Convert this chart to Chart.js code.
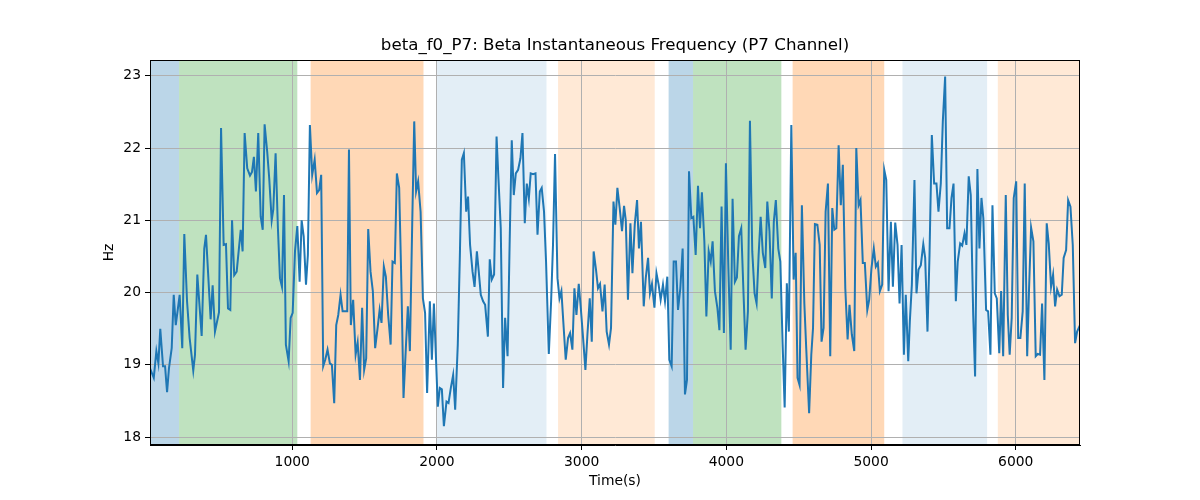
<!DOCTYPE html>
<html><head><meta charset="utf-8">
<script src="https://cdn.jsdelivr.net/npm/chart.js@4.4.1/dist/chart.umd.min.js"></script>
<style>html,body{margin:0;padding:0;background:#fff}</style>
</head><body>
<canvas id="c" width="1200" height="500"></canvas>
<script>
const times = [17,43,61,75,88,107,121,135,148,167,181,195,222,240,254,273,291,316,328,344,374,392,404,436,450,466,494,508,526,542,556,572,584,599,616,644,657,671,689,708,722,735,749,765,782,796,809,827,841,858,869,885,901,915,929,943,956,975,989,1003,1019,1035,1051,1065,1079,1095,1108,1122,1138,1155,1171,1186,1200,1214,1228,1244,1260,1274,1290,1304,1318,1334,1348,1364,1380,1392,1405,1421,1438,1452,1468,1483,1497,1511,1525,1541,1557,1573,1590,1604,1617,1633,1647,1663,1680,1693,1709,1723,1739,1755,1769,1785,1799,1813,1829,1843,1856,1870,1887,1903,1918,1932,1951,1965,1979,2006,2020,2034,2048,2066,2080,2096,2112,2126,2144,2158,2172,2186,2202,2215,2229,2246,2260,2276,2289,2303,2319,2333,2352,2365,2379,2395,2412,2425,2441,2457,2471,2488,2503,2517,2531,2545,2561,2577,2591,2607,2621,2635,2648,2664,2681,2695,2711,2724,2740,2754,2773,2789,2802,2816,2833,2847,2860,2876,2890,2906,2920,2936,2950,2964,2980,2994,3010,3026,3040,3056,3070,3083,3099,3113,3127,3144,3159,3173,3189,3203,3220,3233,3247,3263,3279,3293,3305,3320,3337,3351,3367,3383,3396,3410,3429,3443,3459,3472,3486,3503,3517,3532,3546,3562,3576,3592,3606,3622,3636,3652,3666,3682,3698,3714,3728,3742,3758,3772,3788,3804,3818,3831,3848,3862,3878,3892,3905,3921,3938,3952,3967,3983,3997,4014,4030,4043,4059,4073,4087,4103,4119,4133,4149,4163,4179,4195,4209,4223,4237,4252,4269,4283,4298,4314,4328,4342,4359,4373,4389,4403,4418,4432,4449,4465,4479,4492,4506,4522,4539,4552,4572,4587,4599,4612,4629,4645,4658,4672,4686,4702,4718,4732,4746,4760,4776,4791,4805,4822,4838,4851,4867,4884,4898,4914,4927,4943,4957,4974,4987,5003,5019,5033,5047,5061,5077,5091,5105,5121,5137,5151,5167,5183,5197,5211,5227,5240,5257,5268,5282,5300,5314,5328,5344,5361,5374,5390,5404,5420,5436,5452,5466,5482,5496,5512,5526,5542,5556,5570,5586,5599,5616,5630,5646,5659,5675,5689,5706,5719,5735,5749,5763,5776,5795,5809,5825,5839,5855,5869,5886,5899,5913,5931,5945,5958,5972,5986,6003,6017,6032,6048,6062,6079,6092,6106,6122,6138,6152,6168,6182,6198,6214,6228,6244,6258,6272,6286,6302,6318,6331,6348,6362,6378,6394,6410,6424,6444];
const hz = [18.95,18.82,19.19,19.02,19.50,18.98,18.98,18.62,18.95,19.23,19.97,19.55,19.97,19.23,20.81,19.88,19.37,18.92,19.14,20.25,19.40,20.61,20.80,19.63,20.10,19.46,19.73,22.28,20.66,20.67,19.78,19.76,21.00,20.24,20.29,20.87,20.57,22.21,21.72,21.62,21.67,21.88,21.40,22.21,21.05,20.87,22.33,21.95,21.58,21.00,21.15,21.93,20.89,20.20,20.08,21.35,19.28,19.05,19.65,19.72,20.57,20.92,20.15,21.00,20.78,20.11,20.52,22.32,21.63,21.84,21.38,21.42,21.63,18.98,19.07,19.21,19.02,19.00,18.47,19.55,19.69,19.97,19.74,19.74,19.74,21.98,19.55,19.90,19.14,19.31,18.79,19.79,18.93,19.09,20.88,20.29,20.02,19.23,19.51,19.76,19.58,20.36,20.22,19.69,19.28,20.43,20.41,21.65,21.45,20.06,18.54,19.23,19.81,19.19,20.94,22.37,21.40,21.54,21.12,19.92,19.72,18.61,19.88,19.07,19.85,18.42,18.68,18.66,18.15,18.49,18.47,18.68,18.86,18.38,19.28,20.48,21.84,21.93,21.12,21.33,20.66,20.29,20.08,20.57,20.29,19.97,19.88,19.83,19.39,20.46,20.18,20.25,22.16,21.58,20.89,18.68,19.65,19.12,20.75,22.11,21.35,21.65,21.70,21.86,22.21,20.96,21.51,21.30,21.65,21.64,21.65,20.80,21.40,21.45,21.12,20.43,19.15,19.88,20.66,21.92,20.20,19.92,20.02,19.51,19.07,19.37,19.44,19.21,20.06,19.69,20.12,19.79,19.37,18.93,19.42,19.92,19.32,20.57,20.32,20.06,20.12,19.74,20.11,19.46,19.28,19.51,21.26,20.94,21.45,21.17,20.85,21.20,21.00,19.90,20.96,20.27,20.94,21.28,20.61,20.98,19.81,20.20,20.48,19.99,20.12,19.79,20.27,20.11,19.90,20.11,19.88,20.22,19.07,18.98,20.43,20.43,19.76,20.06,20.61,18.59,18.79,21.68,21.03,21.05,20.52,21.48,20.89,21.39,20.71,19.67,20.57,20.43,20.71,20.02,19.79,19.48,21.19,19.44,21.79,20.34,19.21,21.30,20.15,20.21,20.78,20.89,19.97,19.21,19.74,22.38,20.57,19.99,19.85,20.52,21.05,20.55,20.34,21.26,20.85,19.92,20.98,21.28,20.61,20.43,19.28,18.41,20.13,19.46,22.32,20.18,20.55,18.82,18.72,21.21,19.85,19.23,18.33,19.14,19.51,20.95,20.94,20.66,19.32,19.51,21.12,21.51,19.12,21.17,20.87,20.89,22.04,21.21,21.77,20.06,19.35,19.83,19.42,19.19,22.00,21.21,21.28,20.41,20.41,19.76,19.90,20.34,20.61,20.36,20.41,20.02,20.11,21.70,21.56,20.02,20.98,20.08,20.97,20.66,19.85,20.66,19.14,19.97,19.05,19.60,20.11,21.56,19.99,20.32,20.38,20.67,20.48,19.46,20.52,22.18,21.51,21.51,21.12,21.51,22.37,22.99,20.89,20.89,21.31,21.51,19.88,20.43,20.68,20.65,20.82,20.66,21.61,21.35,19.69,18.84,21.71,20.61,21.31,21.03,19.76,19.74,19.14,21.21,19.99,19.92,19.16,20.02,19.12,21.35,19.69,19.14,19.65,21.31,21.54,19.37,19.37,19.74,21.51,19.12,20.06,20.90,20.71,19.12,19.15,19.14,19.85,18.79,20.96,20.68,20.08,20.25,19.81,20.04,19.95,19.97,20.48,20.59,21.28,21.19,20.66,19.30,19.46,19.55];

const spanStarts = [17, 218, 1127, 2001, 2837, 3601, 3770, 4458, 5217, 5876];
const spanEnds   = [218, 1035, 1907, 2757, 3505, 3770, 4380, 5091, 5802, 6444];
const spanKinds  = ['blue','green','orange','lightBlue','lightOrange','blue','green','orange','lightBlue','lightOrange'];

const xTicks = [1000, 2000, 3000, 4000, 5000, 6000];
const yTicks = [18, 19, 20, 21, 22, 23];

const X_MIN = 17, X_MAX = 6444, Y_MIN = 17.89, Y_MAX = 23.22;

const spanFill = {
  blue: 'rgba(31,119,180,0.3)',
  green: 'rgba(44,160,44,0.3)',
  orange: 'rgba(255,127,14,0.3)',
  lightBlue: 'rgba(31,119,180,0.125)',
  lightOrange: 'rgba(255,127,14,0.17)'
};
const FONT = "'DejaVu Sans', sans-serif";

const spanPlugin = {
  id: 'spans',
  beforeDraw(chart) {
    const {ctx, chartArea: a, scales: {x}} = chart;
    ctx.save();
    spanStarts.forEach((s, i) => {
      const x0 = Math.max(a.left, x.getPixelForValue(s));
      const x1 = Math.min(a.right, x.getPixelForValue(spanEnds[i]));
      ctx.fillStyle = spanFill[spanKinds[i]];
      ctx.fillRect(x0, a.top, x1 - x0, a.bottom - a.top);
    });
    ctx.restore();
  }
};
const framePlugin = {
  id: 'frame',
  afterDatasetsDraw(chart) {
    const {ctx, chartArea: a} = chart;
    ctx.save();
    ctx.strokeStyle = '#000';
    ctx.lineWidth = 1;
    ctx.strokeRect(Math.round(a.left) + 0.5, Math.round(a.top) + 0.5, Math.round(a.right - a.left) - 1, Math.round(a.bottom - a.top) - 1);
    ctx.restore();
  }
};

const points = times.map((t, i) => ({x: t, y: hz[i]}));

new Chart(document.getElementById('c'), {
  type: 'line',
  data: { datasets: [{ data: points, borderColor: '#1f77b4', borderWidth: 2, pointRadius: 0, tension: 0, fill: false }] },
  options: {
    responsive: false, animation: false, devicePixelRatio: 1,
    layout: { padding: { left: 0, right: 120, top: 0, bottom: 0 } },
    plugins: {
      legend: { display: false }, tooltip: { enabled: false },
      title: { display: true, text: 'beta_f0_P7: Beta Instantaneous Frequency (P7 Channel)', color: '#000',
        font: { family: FONT, size: 16.67, weight: 'normal', lineHeight: 1.2 }, padding: { top: 36, bottom: 4 }, fullSize: false }
    },
    scales: {
      x: {
        type: 'linear', min: X_MIN, max: X_MAX,
        afterBuildTicks: s => { s.ticks = xTicks.map(v => ({value: v})); },
        afterFit: s => { s.height = 55; },
        ticks: { color: '#000', font: { family: FONT, size: 13.89 }, padding: 4, maxRotation: 0, autoSkip: false, callback: v => String(v) },
        grid: { color: '#b0b0b0', lineWidth: 1, tickColor: '#000', tickLength: 5 },
        border: { display: true, color: '#000', width: 1 },
        title: { display: true, text: 'Time(s)', color: '#000', font: { family: FONT, size: 13.89, lineHeight: 1.2 }, padding: { top: 0, bottom: 10 } }
      },
      y: {
        type: 'linear', min: Y_MIN, max: Y_MAX,
        afterBuildTicks: s => { s.ticks = yTicks.map(v => ({value: v})); },
        afterFit: s => { s.width = 150; },
        ticks: { color: '#000', font: { family: FONT, size: 13.89 }, padding: 4, autoSkip: false, callback: v => String(v) },
        grid: { color: '#b0b0b0', lineWidth: 1, tickColor: '#000', tickLength: 5 },
        border: { display: true, color: '#000', width: 1 },
        title: { display: true, text: 'Hz', color: '#000', font: { family: FONT, size: 13.89, lineHeight: 1.2 }, padding: { top: 101, bottom: 0 } }
      }
    }
  },
  plugins: [spanPlugin, framePlugin]
});
</script>
</body></html>
